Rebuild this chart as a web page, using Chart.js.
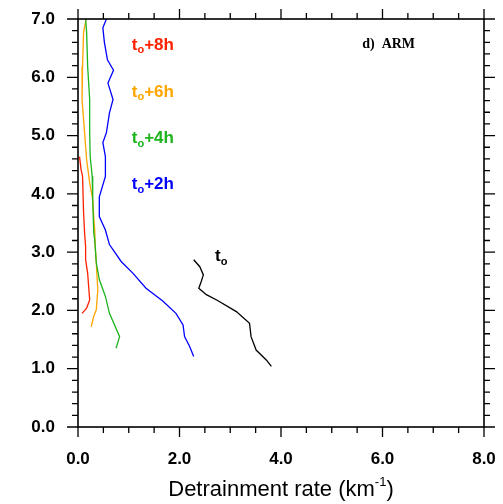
<!DOCTYPE html>
<html><head><meta charset="utf-8">
<script src="https://cdn.jsdelivr.net/npm/chart.js@4/dist/chart.umd.min.js"></script>
<style>html,body{margin:0;padding:0;background:#fff}#wrap{width:503px;height:504px}</style>
</head><body><div id="wrap"><canvas id="c" width="503" height="504"></canvas></div>
<script>
// Detrainment rate (km^-1) vs height (km)
const t0_x  = [2.28,2.40,2.47,2.43,2.38,2.53,2.75,3.12,3.38,3.41,3.51,3.71,3.81];
const t0_y  = [2.87,2.75,2.61,2.50,2.38,2.27,2.17,1.98,1.78,1.55,1.32,1.15,1.04];
const t2_x  = [0.56,0.49,0.52,0.58,0.70,0.59,0.69,0.62,0.56,0.49,0.54,0.54,0.42,0.42,0.54,0.62,0.85,1.08,1.34,1.67,1.93,2.07,2.10,2.20,2.28];
const t2_y  = [7.00,6.85,6.60,6.30,6.12,5.90,5.62,5.39,5.05,4.88,4.64,4.30,3.95,3.61,3.38,3.13,2.84,2.64,2.38,2.16,1.95,1.75,1.55,1.38,1.21];
const t4_x  = [0.15,0.17,0.19,0.23,0.23,0.24,0.28,0.29,0.31,0.33,0.36,0.42,0.54,0.62,0.82,0.75];
const t4_y  = [7.00,6.77,6.19,5.62,5.05,4.64,4.30,3.90,3.33,3.21,2.82,2.53,2.24,1.95,1.55,1.35];
const t6_x  = [0.16,0.11,0.09,0.08,0.13,0.17,0.23,0.29,0.31,0.33,0.34,0.36,0.39,0.36,0.31,0.26];
const t6_y  = [7.00,6.77,6.19,5.62,5.05,4.59,4.19,3.90,3.61,3.38,3.09,2.82,2.35,2.01,1.90,1.72];
const t8_x  = [0.03,0.06,0.09,0.11,0.13,0.15,0.15,0.19,0.23,0.17,0.08];
const t8_y  = [4.64,4.42,4.30,3.67,3.33,3.09,2.87,2.64,2.18,2.04,1.95];
const seriesNames = ['t0','t0+2h','t0+4h','t0+6h','t0+8h'];
const xTicks = [0,2,4,6,8];
const yTicks = [0,1,2,3,4,5,6,7];

const colors = ['#000000','#0000ff','#1eb41e','#ffa500','#ff2200'];
const xs = [t0_x,t2_x,t4_x,t6_x,t8_x];
const ys = [t0_y,t2_y,t4_y,t6_y,t8_y];
const datasets = xs.map((xa,i)=>({
  label: seriesNames[i],
  data: xa.map((v,j)=>({x:v,y:ys[i][j]})),
  showLine:true, borderColor:colors[i], backgroundColor:colors[i],
  borderWidth:1.3, pointRadius:0, tension:0
}));

const deco = {
  id:'deco',
  afterDraw(chart){
    const ctx=chart.ctx, xs_=chart.scales.x, ys_=chart.scales.y, a=chart.chartArea;
    ctx.save();
    ctx.strokeStyle='#000'; ctx.lineWidth=1.6;
    ctx.strokeRect(a.left,a.top,a.right-a.left,a.bottom-a.top);
    ctx.lineWidth=1.3;
    ctx.beginPath();
    for(let v=0; v<=8.001; v+=0.5){
      const p=xs_.getPixelForValue(v); const L=(Math.abs(v/2-Math.round(v/2))<1e-6)?10:6;
      ctx.moveTo(p,a.bottom); ctx.lineTo(p,a.bottom+L);
      ctx.moveTo(p,a.top); ctx.lineTo(p,a.top-L);
    }
    for(let k=0;k<=35;k++){
      const v=k*0.2; const p=ys_.getPixelForValue(v); const L=(k%5===0)?11:6;
      ctx.moveTo(a.left,p); ctx.lineTo(a.left-L,p);
      ctx.moveTo(a.right,p); ctx.lineTo(a.right+L,p);
    }
    ctx.stroke();
    // series labels
    const labs=[['+8h',colors[4],6.55],['+6h',colors[3],5.74],['+4h',colors[2],4.95],['+2h',colors[1],4.16]];
    function tlab(xv,yv,suffix,col){
      let x=xs_.getPixelForValue(xv), y=ys_.getPixelForValue(yv);
      ctx.fillStyle=col; ctx.textBaseline='middle'; ctx.textAlign='left';
      ctx.font='bold 17px "Liberation Sans", Arial, sans-serif';
      ctx.fillText('t',x,y); x+=ctx.measureText('t').width;
      ctx.font='bold 11px "Liberation Sans", Arial, sans-serif';
      ctx.fillText('o',x,y+5); x+=ctx.measureText('o').width;
      if(suffix){ ctx.font='bold 17px "Liberation Sans", Arial, sans-serif'; ctx.fillText(suffix,x,y); }
    }
    labs.forEach(l=>tlab(1.06,l[2],l[0],l[1]));
    tlab(2.70,2.92,'','#000');
    ctx.fillStyle='#000'; ctx.font='bold 14px "Liberation Serif", "DejaVu Serif", serif';
    ctx.textBaseline='middle';
    ctx.fillText('d)  ARM', xs_.getPixelForValue(5.6), ys_.getPixelForValue(6.56));
    // x axis title with superscript
    const cx=(a.left+a.right)/2, ty=490;
    const f1='22px "Liberation Sans", Arial, sans-serif', f2='13px "Liberation Sans", Arial, sans-serif';
    ctx.font=f1; const w1=ctx.measureText('Detrainment rate (km').width, w3=ctx.measureText(')').width;
    ctx.font=f2; const w2=ctx.measureText('-1').width;
    let x0=cx-(w1+w2+w3)/2;
    ctx.textAlign='left';
    ctx.font=f1; ctx.fillText('Detrainment rate (km',x0,ty); x0+=w1;
    ctx.font=f2; ctx.fillText('-1',x0,ty-8); x0+=w2;
    ctx.font=f1; ctx.fillText(')',x0,ty);
    ctx.restore();
  }
};

function zeroPad(s){ s.paddingLeft=0; s.paddingRight=0; s.paddingTop=0; s.paddingBottom=0; }

new Chart(document.getElementById('c'),{
  type:'scatter',
  data:{datasets},
  options:{
    responsive:false, animation:false,
    layout:{padding:{top:19,right:19,left:0,bottom:0}},
    plugins:{legend:{display:false},tooltip:{enabled:false}},
    scales:{
      x:{type:'linear',min:0,max:8,
        afterBuildTicks:s=>{s.ticks=xTicks.map(v=>({value:v}));},
        afterFit:s=>{s.height=77; zeroPad(s);},
        grid:{display:false,drawTicks:false}, border:{display:false},
        ticks:{padding:22,color:'#000',font:{family:'"Liberation Sans", Arial, sans-serif',size:17,weight:'bold'},
          callback:v=>Number(v).toFixed(1), maxRotation:0}},
      y:{type:'linear',min:0,max:7,
        afterBuildTicks:s=>{s.ticks=yTicks.map(v=>({value:v}));},
        afterFit:s=>{s.width=78; zeroPad(s);},
        grid:{display:false,drawTicks:false}, border:{display:false},
        ticks:{padding:23,color:'#000',font:{family:'"Liberation Sans", Arial, sans-serif',size:17,weight:'bold'},
          callback:v=>Number(v).toFixed(1)}}
    }
  },
  plugins:[deco]
});
</script></body></html>
